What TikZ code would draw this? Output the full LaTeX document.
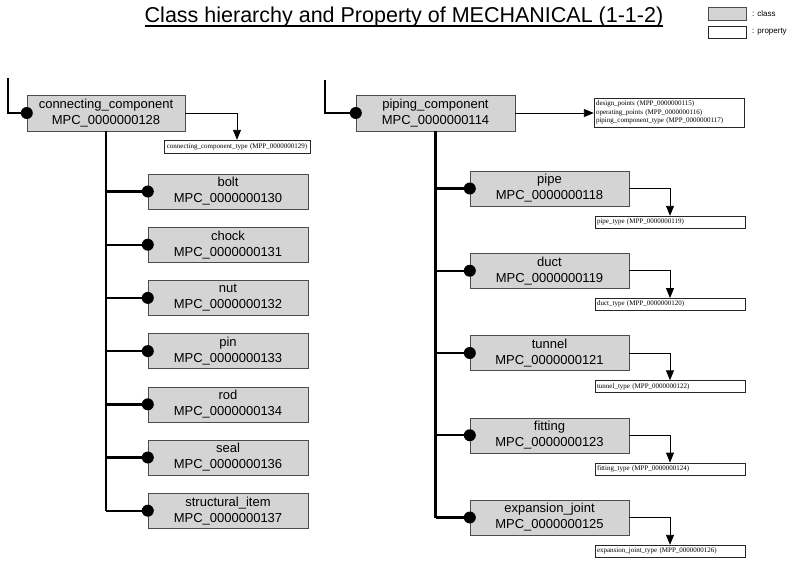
\documentclass[tikz,border=0pt]{standalone}
\usepackage{fontspec}
\setmainfont{Liberation Serif}
\setsansfont{Liberation Sans}
\usetikzlibrary{arrows.meta}

\begin{document}
\begin{tikzpicture}[x=1pt,y=-1pt,
			classbox/.style={draw=black!70,fill=black!17,minimum width=160pt,minimum height=35pt,inner sep=0pt,align=center,font=\sffamily\fontsize{13}{16}\selectfont},
			propbox/.style={draw=black!85,fill=white,text width=146pt,minimum height=12pt,inner sep=2pt,align=left,font=\rmfamily\fontsize{7}{8.5}\selectfont},
			trunk/.style={line width=2.4pt},
			link/.style={line width=0.9pt,-{Triangle[length=10pt,width=8pt]}}]
			\useasboundingbox (0,0) rectangle (800,562);
			\node[anchor=base,inner sep=0pt,font=\sffamily\fontsize{21.5}{24}\selectfont] (title) at (404,22) {Class hierarchy and Property of MECHANICAL (1-1-2)};
			\draw[line width=1.1pt] ([yshift=-4pt]title.base west) -- ([yshift=-4pt]title.base east);
			\node[classbox,minimum width=38pt,minimum height=13pt] (legc) at (727,13.5) {};
			\node[propbox,text width=34pt,minimum height=12pt] (legp) at (727,32) {};
			\node[anchor=west,inner sep=0pt,font=\sffamily\fontsize{8}{10}\selectfont] (legct) at (752,13.5) {: class};
			\node[anchor=west,inner sep=0pt,font=\sffamily\fontsize{8}{10}\selectfont] (legpt) at (752,32) {: property};
			% connecting_component
			\node[classbox,minimum width=158pt,minimum height=36pt] (cc) at (106,113) {connecting\_component\\MPC\_0000000128};
			\node[propbox,text width=142pt,minimum height=13pt,align=center] (ccp) at (237,146.5) {connecting\_component\_type (MPP\_0000000129)};
			\coordinate (cstart) at (8,78);
			\draw[trunk] (cstart) |- (cc.west);
			\draw[link] (cc.east) -| (ccp.north);
			\foreach \nm/\id [count=\i from 0] in {bolt/130,chock/131,nut/132,pin/133,rod/134,seal/136,structural\_item/137} {
				\node[classbox] (l\i) at (228,191.5+53.2*\i) {\nm\\MPC\_0000000\id};
				\draw[trunk] (cc.south |- l\i.west) -- (l\i.west);
				\fill (l\i.west) circle (6pt);
			}
			\draw[trunk] (cc.south) -- (cc.south |- l6.west);
			\fill (cc.west) circle (6pt);
			% piping_component
			\node[classbox,minimum width=159pt,minimum height=36pt] (pc) at (435.5,113) {piping\_component\\MPC\_0000000114};
			\node[propbox,minimum height=29pt] (pcp) at (669,112.5) {design\_points (MPP\_0000000115)\\operating\_points (MPP\_0000000116)\\piping\_component\_type (MPP\_0000000117)};
			\coordinate (pstart) at (325,80);
			\draw[trunk] (pstart) |- (pc.west);
			\draw[link] (pc.east) -- (pc.east -| pcp.west);
			\foreach \nm/\id/\pid [count=\i from 0] in {pipe/118/119,duct/119/120,tunnel/121/122,fitting/123/124,expansion\_joint/125/126} {
				\node[classbox,minimum width=159pt] (r\i) at (549.5,188.5+82.25*\i) {\nm\\MPC\_0000000\id};
				\node[propbox] (rp\i) at (670,222+82.25*\i) {\nm\_type (MPP\_0000000\pid)};
				\draw[trunk] (pc.south |- r\i.west) -- (r\i.west);
				\fill (r\i.west) circle (6pt);
				\draw[link] (r\i.east) -| (rp\i.north);
			}
			\draw[trunk] (pc.south) -- (pc.south |- r4.west);
			\fill (pc.west) circle (6pt);
		\end{tikzpicture}
\end{document}
